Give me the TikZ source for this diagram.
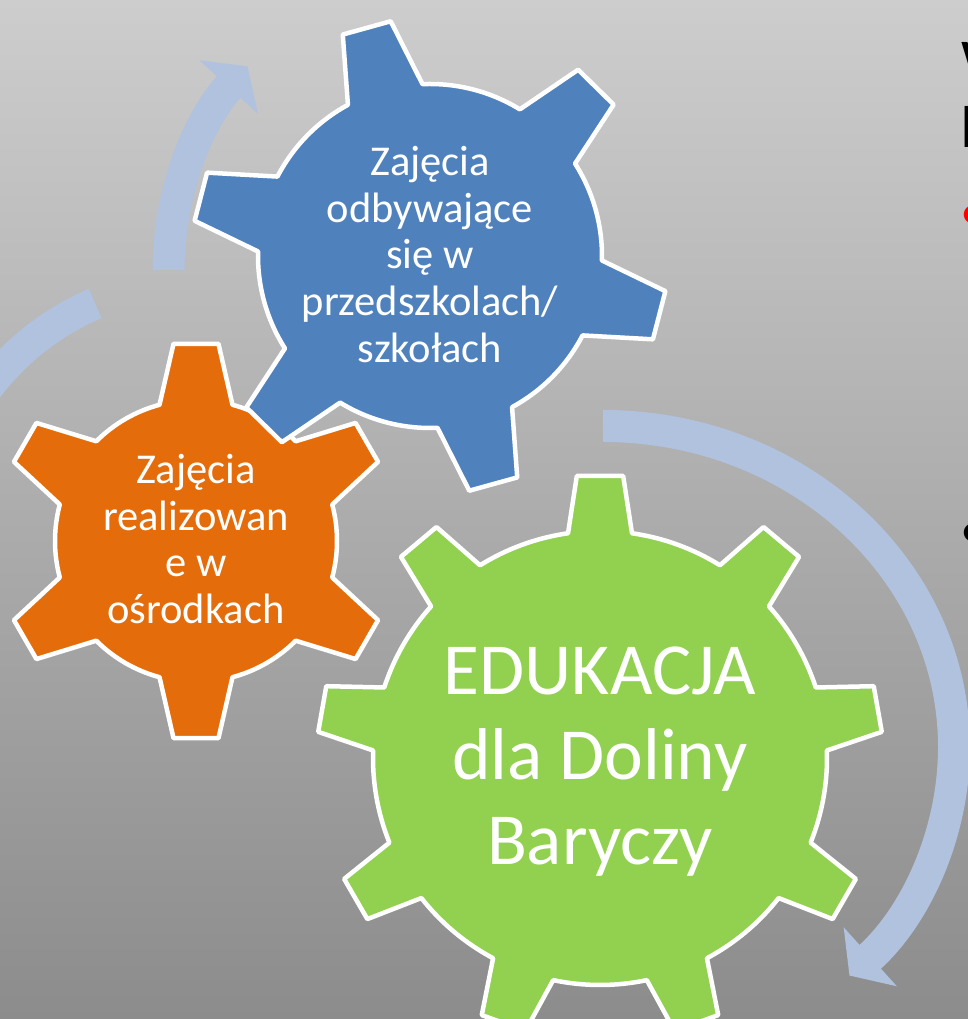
\documentclass[tikz,border=0pt]{standalone}
\usepackage{fontspec}
\setmainfont{Carlito}
\usetikzlibrary{arrows.meta}
\definecolor{gearblue}{RGB}{79,129,189}
\definecolor{gearorange}{RGB}{228,108,10}
\definecolor{geargreen}{RGB}{146,208,80}
\definecolor{arrowblue}{RGB}{176,194,222}
\definecolor{bgtop}{RGB}{205,205,205}
\definecolor{bgmid}{RGB}{178,178,178}
\definecolor{bgbottom}{RGB}{140,140,140}

\begin{document}
\begin{tikzpicture}[x=1pt, y=1pt,
    gearedge/.style={draw=white, line width=4.5pt, line join=round},
    geartext/.style={text=white, align=center, inner sep=0pt},
    arrowband/.style={draw=arrowblue, line width=32pt, -{Triangle[width=78pt,length=28pt]}},
    sidetext/.style={anchor=base west, inner sep=0pt}]
	\useasboundingbox (0,0) rectangle (968,1019);
	\clip (0,0) rectangle (968,1019);
	\fill[top color=bgtop, middle color=bgmid, bottom color=bgbottom] (0,0) rectangle (968,1019);

	% circular arrows
	\coordinate (a1) at (168.5,749);
	\coordinate (a2) at (95.2,715.5);
	\coordinate (a3) at (603,593);
	\draw[arrowband] (a1) arc[start angle=180, end angle=137.6, radius=302];
	\draw[arrowband] (a2) arc[start angle=113, end angle=200, radius=258];
	\draw[arrowband] (a3) arc[start angle=90, end angle=-45.4, x radius=351, y radius=321];

	% gears
	\coordinate (cO) at (196,478);
	\coordinate (cB) at (430,763);
	\coordinate (cG) at (600,261);
	\draw[gearedge, fill=gearorange, shift={(cO)}] (75:141)
		\foreach \a in {90,150,...,390} { -- ({\a-15}:141) -- ({\a-6.5}:198.5) -- ({\a+6.5}:198.5) -- ({\a+15}:141) arc[start angle=\a+15, end angle=\a+45, radius=141] } -- cycle;
	\draw[gearedge, fill=gearblue, shift={(cB)}] (92.5:172)
		\foreach \a in {105.5,165.5,...,405.5} { -- ({\a-13}:172) -- ({\a-6}:238) -- ({\a+6}:238) -- ({\a+13}:172) arc[start angle=\a+13, end angle=\a+47, radius=172] } -- cycle;
	\draw[gearedge, fill=geargreen, shift={(cG)}] (81.9:227)
		\foreach \a in {90,130,...,410} { -- ({\a-8.1}:227) -- ({\a-4.7}:283) -- ({\a+4.7}:283) -- ({\a+8.1}:227) arc[start angle=\a+8.1, end angle=\a+31.9, radius=227] } -- cycle;

	\node[geartext, font=\fontsize{42.5}{46.7}\selectfont] (O) at (196,480) {Zajęcia\\realizowan\\e w\\ośrodkach};
	\node[geartext, font=\fontsize{42.5}{46.7}\selectfont] (B) at (430,764.5) {Zajęcia\\odbywające\\się w\\przedszkolach/\\szkołach};
	\node[geartext, font=\fontsize{73.4}{85}\selectfont] (G) at (600,257.3) {EDUKACJA\\dla Doliny\\Baryczy};

	% cut-off slide text on the right
	\node[sidetext, font=\fontsize{64}{64}\selectfont] (T1) at (961,935) {W};
	\node[sidetext, font=\fontsize{64}{64}\selectfont] (T2) at (960,871) {P};
	\node[sidetext, text=red, font=\fontsize{52}{52}\selectfont] (D1) at (960,789) {•};
	\node[sidetext, font=\fontsize{52}{52}\selectfont] (D2) at (960,471) {•};
\end{tikzpicture}
\end{document}
